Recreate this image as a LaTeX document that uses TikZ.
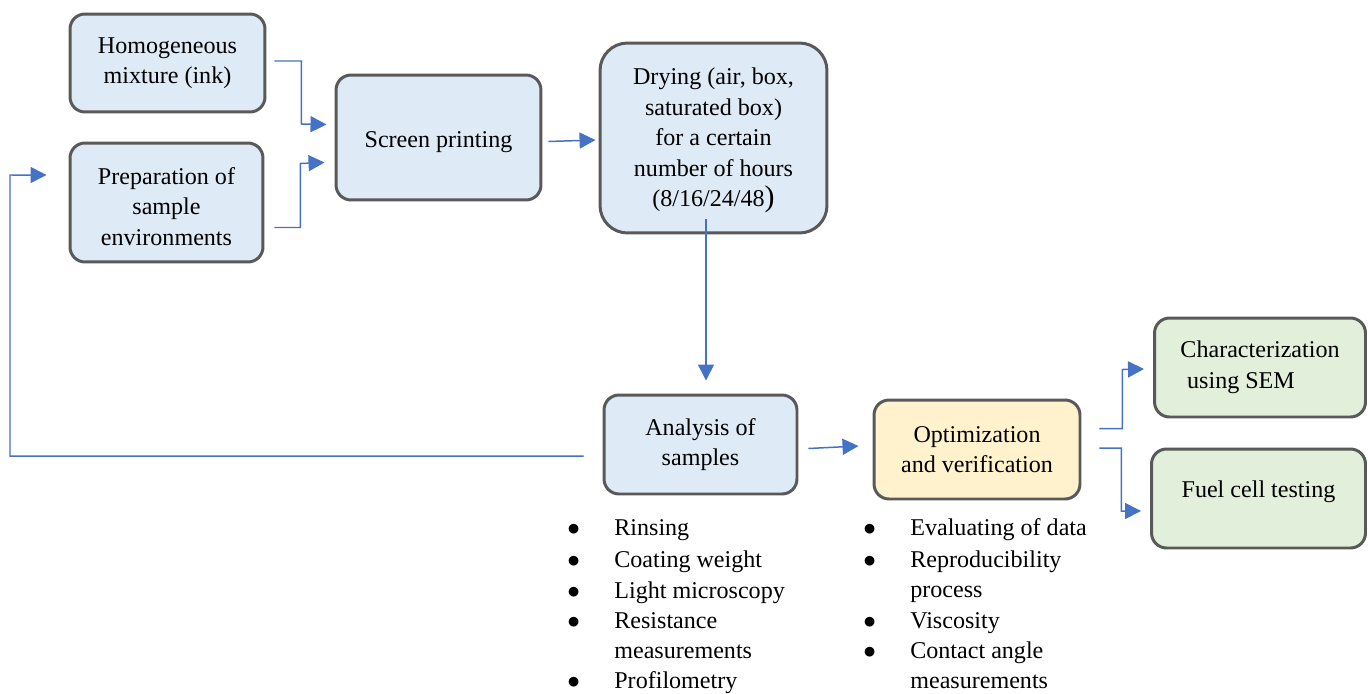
\documentclass[tikz,border=0pt]{standalone}
\usepackage{fontspec}
\setmainfont{Liberation Serif}
\usetikzlibrary{arrows.meta}

\definecolor{boxblue}{HTML}{DEEAF6}
\definecolor{boxyellow}{HTML}{FFF2CC}
\definecolor{boxgreen}{HTML}{E2EFDA}
\definecolor{edgegray}{HTML}{595959}
\definecolor{linkblue}{HTML}{4472C4}

\tikzset{
	stepbox/.style={draw=edgegray, line width=1.7pt, rounded corners=0.3cm, align=center,
		fill=boxblue, font=\fontsize{13.7}{17.4}\selectfont, inner sep=0pt},
	link/.style={draw=linkblue, line width=0.85pt, -{Triangle[length=0.32cm,width=0.32cm]}},
	item/.style={anchor=base west, inner sep=0pt, font=\fontsize{13.7}{17}\selectfont},
}

\begin{document}
\begin{tikzpicture}[x=0.02cm, y=-0.02cm]

	\useasboundingbox (0,0) rectangle (1368,693);

	% process boxes
	\node[stepbox, minimum width=3.9cm, minimum height=1.96cm] (ink) at (167.5,63) {Homogeneous\\mixture (ink)};
	\node[stepbox, minimum width=3.86cm, minimum height=2.38cm] (prep) at (166.5,202.5)
		{\rule{0pt}{0.5cm}Preparation of\\sample\\environments};
	\node[stepbox, minimum width=4.1cm, minimum height=2.5cm] (print) at (438.5,137.5) {\rule{0pt}{0.5cm}Screen printing};
	\node[stepbox, rounded corners=0.55cm, minimum width=4.54cm, minimum height=3.8cm] (dry) at (713.5,138)
		{\rule{0pt}{0.44cm}Drying (air, box,\\saturated box)\\for a certain\\number of hours\\(8/16/24/48{\fontsize{17}{17}\selectfont)}};
	\node[stepbox, minimum width=3.86cm, minimum height=1.98cm] (ana) at (700.5,444.5) {Analysis of\\samples};
	\node[stepbox, fill=boxyellow, minimum width=4.12cm, minimum height=1.98cm] (opt) at (977,449.5) {Optimization\\and verification};
	\node[stepbox, fill=boxgreen, minimum width=4.22cm, minimum height=1.98cm] (sem) at (1260,367.5)
		{Characterization\\using SEM\hspace*{0.76cm}};
	\node[stepbox, fill=boxgreen, minimum width=4.28cm, minimum height=1.98cm] (fuel) at (1258.5,498.5)
		{Fuel cell testing\rule[-0.39cm]{0pt}{0.39cm}};

	% connectors
	\draw[link] ([xshift=0.16cm,yshift=0.04cm]ink.east) -| ++(27,63) -- ([xshift=-0.16cm,yshift=0.26cm]print.west);
	\draw[link] ([xshift=0.2cm,yshift=-0.5cm]prep.east) -| ++(26,-64) -- ([xshift=-0.2cm,yshift=-0.5cm]print.west);
	\draw[link] ([xshift=0.12cm,yshift=-0.08cm]print.east) -- ([xshift=-0.06cm,yshift=-0.04cm]dry.west);
	\draw[link] ([yshift=0.3cm]dry.south -| 706,0) -- ([yshift=0.26cm]ana.north -| 706,0);
	\draw[link] ([xshift=0.2cm,yshift=-0.08cm]ana.east) -- ([xshift=-0.28cm,yshift=0.07cm]opt.west);
	\draw[link] ([xshift=0.36cm,yshift=0.42cm]opt.east) -| ++(23,-59) -- ([xshift=-0.18cm,yshift=-0.03cm]sem.west);
	\draw[link] ([xshift=0.36cm,yshift=0.03cm]opt.east) -| ++(22,63) -- ([xshift=-0.18cm,yshift=-0.25cm]fuel.west);
	\draw[link] ([xshift=-0.38cm,yshift=-0.23cm]ana.west) -| (10,175) -- ([xshift=-0.44cm,yshift=0.55cm]prep.west);

	% bullet lists
	\foreach \y in {535,567,598,628,688}
		\node[item] (ab\y) at (567,\y) {$\bullet$};
	\foreach \y/\t in {535/Rinsing, 567/Coating weight, 598/Light microscopy, 628/Resistance, 658/measurements, 688/Profilometry}
		\node[item] (at\y) at (614,\y) {\t};

	\foreach \y in {535,567,628,658}
		\node[item] (ob\y) at (863,\y) {$\bullet$};
	\foreach \y/\t in {535/Evaluating of data, 567/Reproducibility, 597/process, 628/Viscosity, 658/Contact angle, 688/measurements}
		\node[item] (ot\y) at (910,\y) {\t};

\end{tikzpicture}
\end{document}
